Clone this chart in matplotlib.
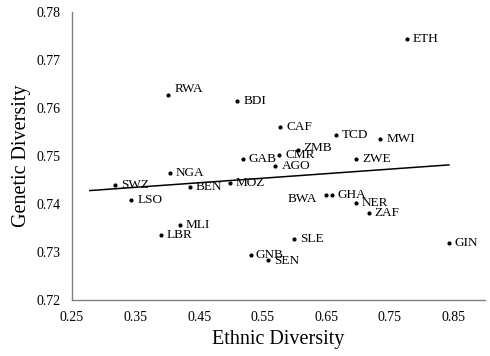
import numpy as np
import matplotlib
matplotlib.use("Agg")
import matplotlib.pyplot as plt

countries = ["ETH", "RWA", "BDI", "CAF", "TCD", "MWI", "ZMB", "CMR", "GAB", "AGO",
             "ZWE", "NGA", "SWZ", "BEN", "MOZ", "LSO", "MLI", "LBR", "BWA", "GHA",
             "NER", "ZAF", "SLE", "GIN", "GNB", "SEN"]
ethnic = [0.777, 0.401, 0.510, 0.578, 0.665, 0.735, 0.605, 0.576, 0.519, 0.570,
          0.697, 0.404, 0.318, 0.435, 0.498, 0.343, 0.420, 0.390, 0.649, 0.659,
          0.697, 0.717, 0.599, 0.843, 0.531, 0.559]
genetic = [0.7745, 0.7627, 0.7615, 0.7560, 0.7543, 0.7536, 0.7513, 0.7502, 0.7494, 0.7480,
           0.7494, 0.7465, 0.7440, 0.7436, 0.7445, 0.7408, 0.7356, 0.7335, 0.7420, 0.7420,
           0.7403, 0.7381, 0.7327, 0.7318, 0.7294, 0.7283]

x_ticks = [0.25, 0.35, 0.45, 0.55, 0.65, 0.75, 0.85]
y_ticks = [0.72, 0.73, 0.74, 0.75, 0.76, 0.77, 0.78]

# label offsets in pixels (default: right of the dot)
offsets = {"RWA": (7, 6), "BWA": (-8, -4), "ZMB": (6, 2), "GNB": (5, 0), "SEN": (6, -1)}

plt.rcParams["font.family"] = "Liberation Serif"

fig = plt.figure(figsize=(4.9, 3.56), dpi=100)
ax = fig.add_axes([0.147, 0.157, 0.843, 0.809])

ax.scatter(ethnic, genetic, s=4, color="black", zorder=3)

# linear trend, extended a little to the left
slope, icpt = np.polyfit(ethnic, genetic, 1)
xt = np.array([0.278, max(ethnic)])
ax.plot(xt, slope * xt + icpt, color="black", lw=1.1)

for name, xv, yv in zip(countries, ethnic, genetic):
    dx, dy = offsets.get(name, (6, 0))
    ax.annotate(name, (xv, yv), xytext=(dx, dy), textcoords="offset pixels",
                ha="right" if dx < 0 else "left", va="center", fontsize=9.5)

ax.set_xlim(0.25, 0.90)
ax.set_ylim(0.72, 0.78)
ax.set_xticks(x_ticks)
ax.set_yticks(y_ticks)
ax.set_xticklabels([f"{v:.2f}" for v in x_ticks])
ax.set_yticklabels([f"{v:.2f}" for v in y_ticks])
ax.tick_params(length=0, labelsize=10, pad=8)

for side in ["top", "right"]:
    ax.spines[side].set_visible(False)
for side in ["left", "bottom"]:
    ax.spines[side].set_color("#808080")
    ax.spines[side].set_linewidth(1.0)

ax.set_xlabel("Ethnic Diversity", fontsize=14.5, labelpad=4)
ax.set_ylabel("Genetic Diversity", fontsize=14.5, labelpad=4)

fig.savefig("out.png", dpi=100)
